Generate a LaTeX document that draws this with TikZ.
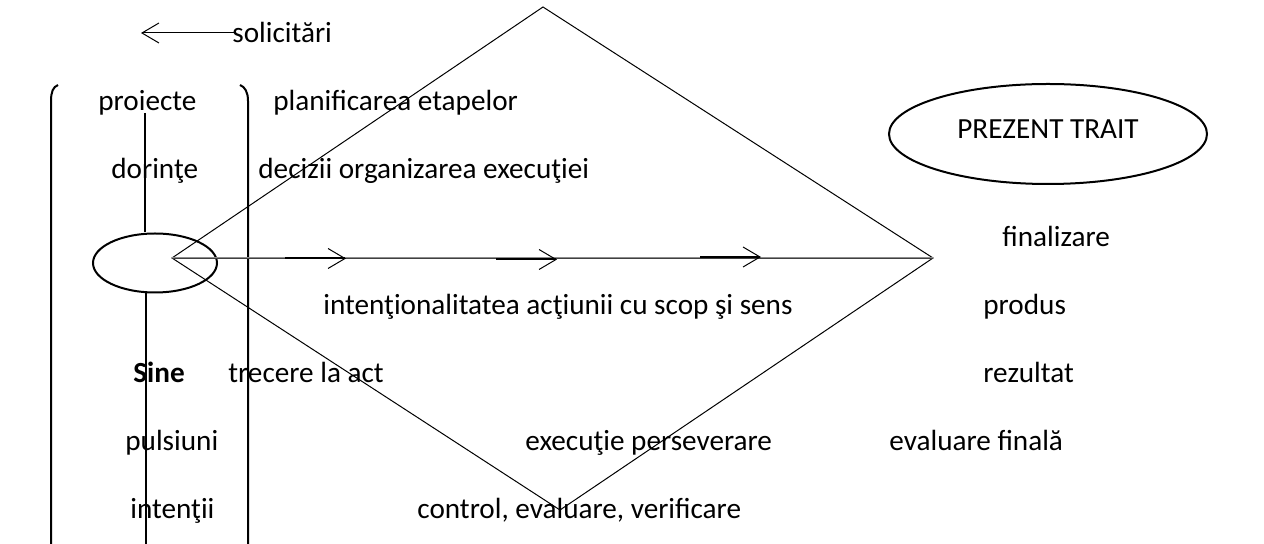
\documentclass[tikz,border=0pt]{standalone}
\usepackage{fontspec}
\setmainfont{Carlito}
\usetikzlibrary{arrows.meta,shapes.geometric}
\begin{document}
\begin{tikzpicture}[x=0.5pt,y=-0.5pt,
  txt/.style={anchor=base west,inner sep=0pt,font=\fontsize{14.6}{17}\selectfont},
  edgeline/.style={line width=0.5pt,line join=miter},
  bracketline/.style={line width=1pt},
  axisline/.style={line width=0.45pt,draw=black!75,double=black!45,double distance=0.5pt},
  shaftline/.style={line width=1pt,-{Straight Barb[length=8.5pt,width=10pt,line width=0.5pt]}},
  barbline/.style={line width=0.5pt,-{Straight Barb[length=8.5pt,width=10pt]}},
  ovalbox/.style={draw,ellipse,line width=1pt,inner sep=0pt}
]
\useasboundingbox (0,0) rectangle (1264,544);

% arrow "solicitari"
\node[txt] (solicitari) at (232,43) {solicitări};
\coordinate (solstart) at (236,33);
\coordinate (solend) at (141,33);
\draw[barbline] (solstart) -- (solend);

% brackets
\draw[bracketline] (58,85) .. controls (53,87) and (51,92) .. (51,101) -- (51,548);
\draw[bracketline] (240,85) .. controls (245,87) and (248,92) .. (248,101) -- (248,548);

% self ellipse
\node[ovalbox,minimum width=62pt,minimum height=29.5pt] (self) at (155,263) {};
\coordinate (vtop) at (145,113);
\coordinate (vbot) at (146,548);
\draw[bracketline] (vtop) -- (vtop |- self.north);
\draw[bracketline] (vbot) -- (vbot |- self.south);

% diamond
\coordinate (dl) at (172,258);
\coordinate (dt) at (543,7);
\coordinate (dr) at (933,258);
\coordinate (db) at (560,510);
\draw[edgeline] (dl) -- (dt) -- (dr) -- (db) -- cycle;

% axis with arrows
\draw[axisline] (dl) -- (dr);
\coordinate (a1s) at (285,258.5);
\coordinate (a1e) at (346,258.5);
\coordinate (a2s) at (496,259.5);
\coordinate (a2e) at (557,259.5);
\coordinate (a3s) at (700,257);
\coordinate (a3e) at (761,257);
\draw[shaftline] (a1s) -- (a1e);
\draw[shaftline] (a2s) -- (a2e);
\draw[shaftline] (a3s) -- (a3e);

% PREZENT TRAIT
\node[ovalbox,minimum width=159pt,minimum height=50pt] (trait) at (1048,134) {};
\node[inner sep=0pt,font=\fontsize{14.6}{17}\selectfont] (traittext) at (1048,129) {PREZENT TRAIT};

% texts
\node[txt] (proiecte) at (98,111) {proiecte};
\node[txt] (planificarea) at (273,111) {planificarea etapelor};
\node[txt] (dorinte) at (111,179) {dorinţe};
\node[txt] (decizii) at (258,179) {decizii organizarea execuţiei};
\node[txt] (finalizare) at (1002,247) {finalizare};
\node[txt] (intentionalitatea) at (323,315) {intenţionalitatea acţiunii cu scop şi sens};
\node[txt] (produs) at (983,315) {produs};
\node[txt,font=\fontsize{14.6}{17}\selectfont\bfseries] (sine) at (133,383) {Sine};
\node[txt] (trecere) at (228,383) {trecere la act};
\node[txt] (rezultat) at (983,383) {rezultat};
\node[txt] (pulsiuni) at (125,451) {pulsiuni};
\node[txt] (executie) at (525,451) {execuţie perseverare};
\node[txt] (evaluare) at (889,451) {evaluare finală};
\node[txt] (intentii) at (130,519) {intenţii};
\node[txt] (control) at (417,519) {control, evaluare, verificare};
\end{tikzpicture}
\end{document}
